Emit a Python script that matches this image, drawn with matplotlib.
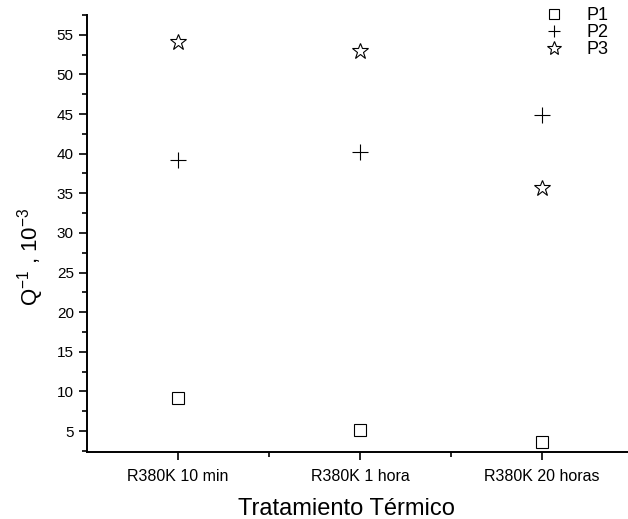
import matplotlib
matplotlib.use("Agg")
import matplotlib.pyplot as plt
from matplotlib.ticker import MultipleLocator, FixedLocator

plt.rcParams['font.family'] = ['Liberation Sans', 'DejaVu Sans']
plt.rcParams['mathtext.fontset'] = 'custom'
plt.rcParams['mathtext.rm'] = 'Liberation Sans'
plt.rcParams['mathtext.it'] = 'Liberation Sans'
plt.rcParams['mathtext.default'] = 'regular'

categories = ["R380K 10 min", "R380K 1 hora", "R380K 20 horas"]
p1 = [9.2, 5.1, 3.6]
p2 = [39.2, 40.2, 44.9]
p3 = [54.1, 53.0, 35.7]

fig = plt.figure(figsize=(6.28, 5.19), dpi=100)
ax = fig.add_axes([87/628, 67/519, 546/628, 437/519])

x = list(range(1, len(categories) + 1))
h1, = ax.plot(x, p1, linestyle='none', marker='s', markersize=9, markerfacecolor='white',
              markeredgecolor='black', markeredgewidth=0.8, label='P1')
h2, = ax.plot(x, p2, linestyle='none', marker='+', markersize=11, color='black',
              markeredgewidth=0.8, label='P2')
h3, = ax.plot(x, p3, linestyle='none', marker='*', markersize=12, markerfacecolor='white',
              markeredgecolor='black', markeredgewidth=0.8, label='P3')

ax.set_xlim(0.5, 3.5)
ax.set_ylim(2.35, 57.5)
ax.set_xticks(x)
ax.set_xticklabels(categories)
ax.xaxis.set_minor_locator(FixedLocator([1.5, 2.5]))
ax.yaxis.set_major_locator(FixedLocator([5, 10, 15, 20, 25, 30, 35, 40, 45, 50, 55]))
ax.yaxis.set_minor_locator(MultipleLocator(2.5))
ax.tick_params(axis='both', which='major', direction='out', length=6, width=1.2, labelsize=11)
ax.tick_params(axis='x', which='major', labelsize=11.5, pad=6)
ax.tick_params(axis='both', which='minor', direction='out', length=3.5, width=1.2)

for s in ['top', 'right']:
    ax.spines[s].set_visible(False)
for s in ['left', 'bottom']:
    ax.spines[s].set_linewidth(1.4)

ax.set_xlabel("Tratamiento Térmico", fontsize=17)
ax.xaxis.set_label_coords(0.476, -0.105)
ax.set_ylabel(r"Q$^{-1}$ , 10$^{-3}$", fontsize=16, family='Liberation Sans')
ax.yaxis.set_label_coords(-0.076, 0.447)

fig.legend(handles=[h1, h2, h3], loc='upper right', bbox_to_anchor=(0.995, 1.017),
           frameon=False, fontsize=13, handlelength=1.2, handletextpad=1.2,
           labelspacing=0.0, markerscale=0.85)

fig.savefig("out.png", dpi=100)
